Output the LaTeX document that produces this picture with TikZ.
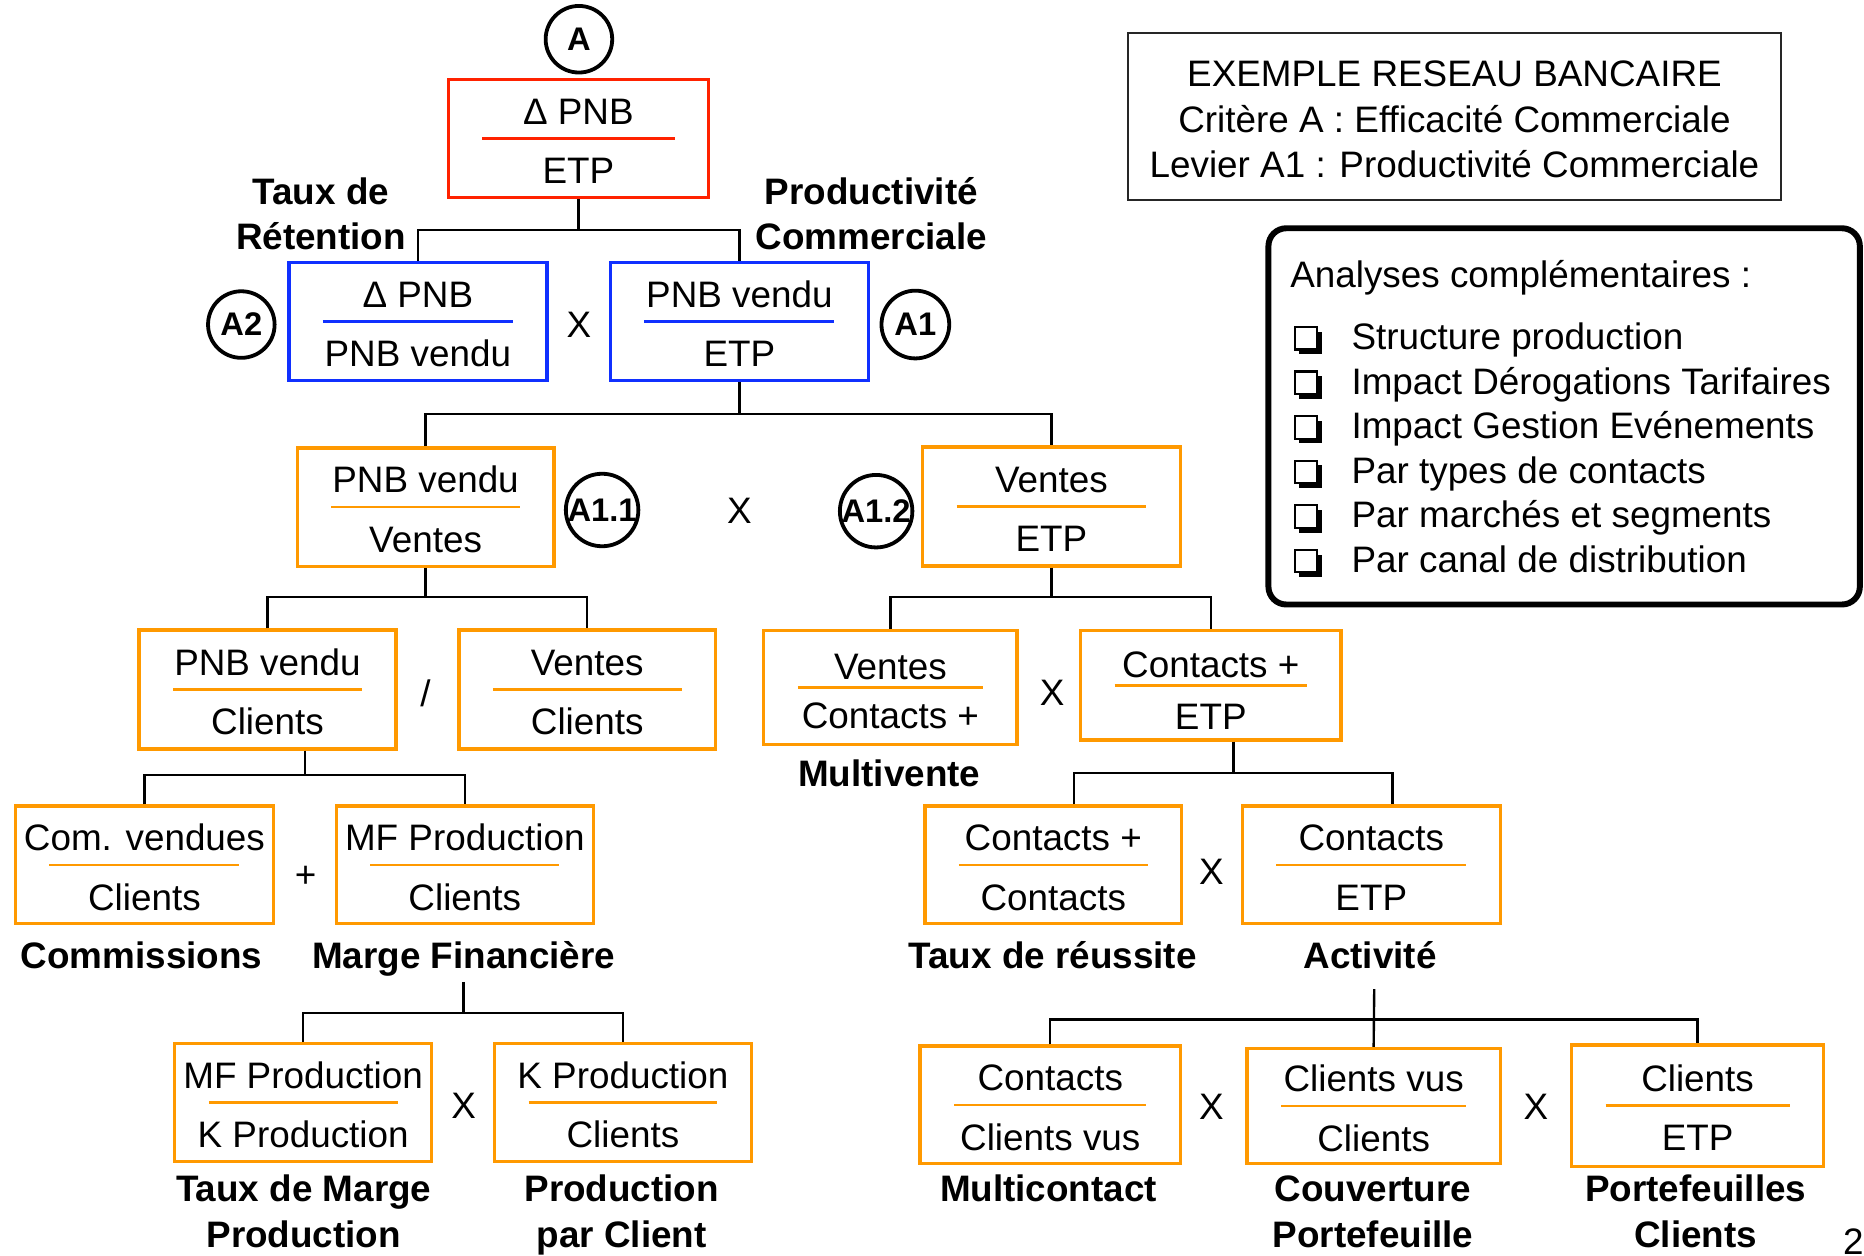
\documentclass[tikz,border=0pt]{standalone}
\usepackage{fontspec}
\setmainfont{Liberation Sans}
\usetikzlibrary{calc}

\definecolor{boxred}{RGB}{255,34,0}
\definecolor{boxblue}{RGB}{16,48,255}
\definecolor{boxorange}{RGB}{255,153,0}

% baseline offsets of numerator and denominator from the box centre
\newcommand{\numoff}{-12}
\newcommand{\denoff}{38}

% ratio box: name, cx, cy, width, height, colour, numerator, denominator
\newcommand{\ratio}[8]{%
  \node[ratiobox=#6, minimum width=#4*0.5pt, minimum height=#5*0.5pt] (#1) at (#2,#3) {};
  \draw[fracrule=#6] ([xshift=15pt]#1.west) -- ([xshift=-15pt]#1.east);
  \node[txt, anchor=base] (#1-num) at (#2,{#3+(\numoff)}) {#7};
  \node[txt, anchor=base] (#1-den) at (#2,{#3+(\denoff)}) {#8};
}

% shadowed check box in front of a list line (left x, baseline y)
\newcommand{\chkbox}[2]{%
  \fill[black] (#1+4,#2-15) rectangle (#1+23,#2+4);
  \draw[black, line width=0.9pt, fill=white] (#1,#2-19) rectangle (#1+19,#2);
}

\begin{document}
\begin{tikzpicture}[x=0.5pt, y=-0.5pt,
  txt/.style={inner sep=0pt, font=\fontsize{15.5}{19}\selectfont},
  lbl/.style={inner sep=2pt, align=center, font=\bfseries\fontsize{15.5}{19}\selectfont},
  ratiobox/.style={draw=#1, line width=1.4pt, inner sep=0pt},
  fracrule/.style={draw=#1, line width=1.1pt},
  tag/.style={circle, draw=black, line width=1.6pt, inner sep=0pt,
              font=\bfseries\fontsize{13.75}{16}\selectfont},
  op/.style={inner sep=0pt, font=\fontsize{15.5}{19}\selectfont},
  conn/.style={draw=black, line width=1pt},
]
\useasboundingbox (0,0) rectangle (1568,1056);

% ---------- level A ----------
\ratio{top}{486.5}{116.5}{219}{99}{boxred}{Δ PNB}{ETP}
\node[tag, minimum size=28pt] (tA) at (487,33) {A};

% ---------- levels A2 / A1 ----------
\ratio{a2}{351.5}{270.5}{217}{99}{boxblue}{Δ PNB}{PNB vendu}
\ratio{a1}{622}{270.5}{217}{99}{boxblue}{PNB vendu}{ETP}
\node[op] (xa) at (487,273) {X};
\node[tag, minimum size=28pt] (tA2) at (203,273) {A2};
\node[tag, minimum size=28.5pt] (tA1) at (770,273) {A1};
% two-line labels: the base anchor sits on the last line
\node[lbl, anchor=base] (lret) at (270,210) {Taux de\\Rétention};
\node[lbl, anchor=base] (lprod) at (733,210) {Productivité\\Commerciale};

% ---------- levels A1.1 / A1.2 ----------
\ratio{a11}{358}{426.5}{216}{99.5}{boxorange}{PNB vendu}{Ventes}
\ratio{a12}{884.5}{426}{217}{100}{boxorange}{Ventes}{ETP}
\node[op] (xb) at (622,430) {X};
\node[tag, minimum size=30.5pt] (tA11) at (506.5,429) {A1.1};
\node[tag, minimum size=30.5pt] (tA12) at (737,430) {A1.2};

% ---------- third level ----------
\ratio{b1}{225}{580}{216}{100}{boxorange}{PNB vendu}{Clients}
\ratio{b2}{494}{580}{216}{100}{boxorange}{Ventes}{Clients}
\node[op] (xc) at (358,583) {/};
\renewcommand{\numoff}{-7}\renewcommand{\denoff}{34}
\ratio{b3}{749}{578.5}{213}{96}{boxorange}{Ventes}{Contacts +}
\renewcommand{\denoff}{37}
\ratio{b4}{1018.5}{576.5}{219}{92}{boxorange}{Contacts +}{ETP}
\renewcommand{\numoff}{-12}\renewcommand{\denoff}{38}
\node[op] (xd) at (885,583) {X};
\node[lbl, anchor=base] (lmv) at (748,662) {Multivente};

% ---------- fourth level ----------
\ratio{c1}{121.5}{727.5}{217}{99}{boxorange}{Com. vendues}{Clients}
\ratio{c2}{391}{727.5}{216}{99}{boxorange}{MF Production}{Clients}
\node[op] (xe) at (257,738) {+};
\ratio{c3}{886}{727.5}{216}{99}{boxorange}{Contacts +}{Contacts}
\ratio{c4}{1153.5}{727.5}{217}{99}{boxorange}{Contacts}{ETP}
\node[op] (xf) at (1019,733) {X};
\node[lbl, anchor=base] (lcom) at (119,815) {Commissions};
\node[lbl, anchor=base] (lmf) at (390,815) {Marge Financière};
\node[lbl, anchor=base] (ltr) at (885.5,815) {Taux de réussite};
\node[lbl, anchor=base] (lact) at (1152.5,815) {Activité};

% ---------- fifth level ----------
\ratio{d1}{255}{927.5}{216}{99}{boxorange}{MF Production}{K Production}
\ratio{d2}{524}{927.5}{216}{99}{boxorange}{K Production}{Clients}
\node[op] (xg) at (390,930) {X};
\ratio{e1}{883.5}{929.5}{219}{99}{boxorange}{Contacts}{Clients vus}
\ratio{e2}{1155.5}{930.5}{213}{97}{boxorange}{Clients vus}{Clients}
\ratio{e3}{1428}{930}{212}{102}{boxorange}{Clients}{ETP}
\node[op] (xh) at (1019,931) {X};
\node[op] (xi) at (1292,931) {X};
\node[lbl, anchor=base] (ltm) at (255.5,1049) {Taux de Marge\\Production};
\node[lbl, anchor=base] (lpc) at (523,1049) {Production\\par Client};
\node[lbl, anchor=base] (lmc) at (882,1011) {Multicontact};
\node[lbl, anchor=base] (lcp) at (1155,1049) {Couverture\\Portefeuille};
\node[lbl, anchor=base] (lpf) at (1426.5,1049) {Portefeuilles\\Clients};

% ---------- connectors ----------
\coordinate (j1) at (486.5,193.5);
\draw[conn] (top.south) -- (j1);
\draw[conn] (a2.north) |- (j1) -| (a1.north);

\coordinate (j2) at (622,348);
\draw[conn] (a1.south) -- (j2);
\draw[conn] (a11.north) |- (j2) -| (a12.north);

\coordinate (j3) at (358,502);
\draw[conn] (a11.south) -- (j3);
\draw[conn] (b1.north) |- (j3) -| (b2.north);

\coordinate (j4) at (884.5,502);
\draw[conn] (a12.south) -- (j4);
\draw[conn] (b3.north) |- (j4) -| (b4.north);

\coordinate (j5) at (256.5,652);
\draw[conn] (b1.south -| j5) -- (j5);
\draw[conn] (c1.north) |- (j5) -| (c2.north);

\coordinate (j6) at (1037.5,650);
\draw[conn] (b4.south -| j6) -- (j6);
\draw[conn] ([xshift=8.75pt]c3.north) |- (j6) -| ([xshift=9pt]c4.north);

\coordinate (mffoot) at (390,826);
\coordinate (j7) at (390,852);
\draw[conn] (mffoot) -- (j7);
\draw[conn] (d1.north) |- (j7) -| (d2.north);

\coordinate (actfoot) at (1156,832);
\coordinate (j8) at (1156,857.5);
\draw[conn] (actfoot) -- (e2.north);
\draw[conn] (e1.north) |- (j8) -| (e3.north);

% ---------- title box ----------
\node[draw=black!85, line width=0.75pt, minimum width=274.5pt, minimum height=70pt, inner sep=0pt]
  (title) at (1223.5,98) {};
\node[txt, anchor=base] (t1) at (1223.5,73) {EXEMPLE RESEAU BANCAIRE};
\node[txt, anchor=base] (t2) at (1223.5,111.5) {Critère A : Efficacité Commerciale};
\node[txt, anchor=base] (t3) at (1223.5,149) {Levier A1 : Productivité Commerciale};

% ---------- further analyses ----------
\draw[black, line width=2.5pt, rounded corners=7.5pt] (1067,192) rectangle (1564.5,508.5);
\node[txt, anchor=base west] (an) at (1085,242) {Analyses complémentaires :};
\node[txt, anchor=base west] (i1) at (1136.5,294) {Structure production};
\node[txt, anchor=base west] (i2) at (1136.5,331.5) {Impact Dérogations Tarifaires};
\node[txt, anchor=base west] (i3) at (1136.5,369) {Impact Gestion Evénements};
\node[txt, anchor=base west] (i4) at (1136.5,406.5) {Par types de contacts};
\node[txt, anchor=base west] (i5) at (1136.5,444) {Par marchés et segments};
\node[txt, anchor=base west] (i6) at (1136.5,481.5) {Par canal de distribution};
\foreach \yb in {294,331.5,369,406.5,444,481.5} {\chkbox{1089}{\yb}}

% page number
\node[txt, anchor=base west] (pg) at (1550,1055) {2};
\end{tikzpicture}
\end{document}
